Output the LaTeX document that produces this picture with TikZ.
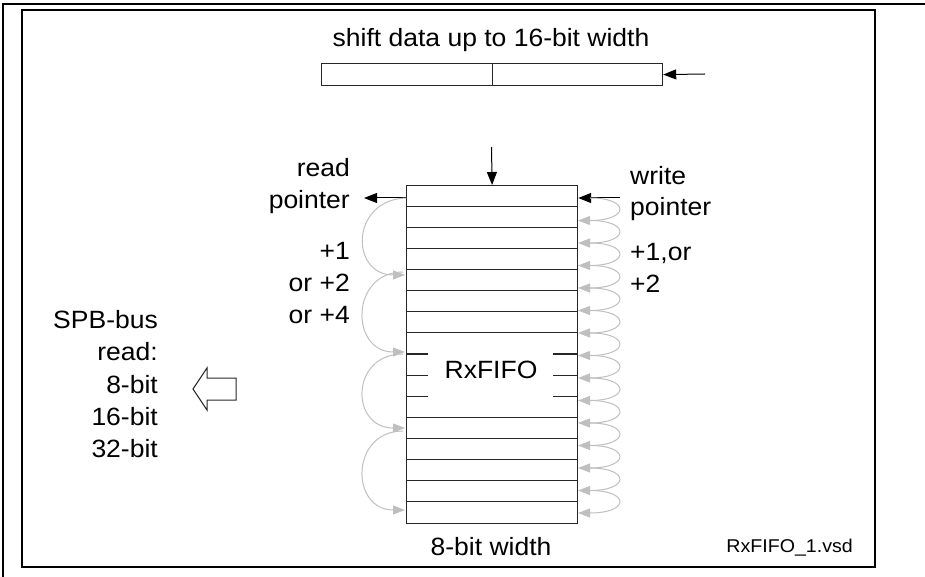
\documentclass[tikz,border=0pt]{standalone}
\usepackage{fontspec}
\setmainfont{Liberation Sans}[FakeStretch=1.06]
\usetikzlibrary{arrows.meta}
\begin{document}
\begin{tikzpicture}[x=1pt,y=-1pt,
  lbl/.style={inner sep=0pt, font=\fontsize{25}{29}\selectfont},
  small/.style={inner sep=0pt, font=\fontsize{18.5}{21}\selectfont},
  frame/.style={line width=1.5pt, draw=black},
  fifoline/.style={draw=black!85, line width=1.2pt},
  blk/.style={-{Triangle[length=13pt,width=10pt]}, line width=1pt, draw=black},
  gry/.style={-{Triangle[length=12pt,width=9pt]}, line width=1pt, draw=black!25, color=black!25}]
\useasboundingbox (0,0) rectangle (925,577);
% frame
\draw[frame] (3,577) -- (3,4) -- (925,4);
\draw[frame] (22,10) rectangle (875,567);
% shift register
\node[lbl, anchor=base] (sdt) at (491,47) {shift data up to 16-bit width};
\node[fifoline, minimum width=341pt, minimum height=22pt, inner sep=0pt, anchor=north west] (sr) at (321,63) {};
\draw[fifoline] (sr.north) -- (sr.south);
\coordinate (srin) at (705,74);
\draw[blk] (srin) -- (sr.east);
% FIFO
\node[fifoline, minimum width=171pt, minimum height=338pt, inner sep=0pt, anchor=north west] (fifo) at (406,185) {};
\foreach \k in {1,...,7,11,12,...,15}
  \draw[fifoline] (406,{185+21.125*\k}) -- (577,{185+21.125*\k});
\foreach \k in {8,9,10}{
  \draw[fifoline] (406,{185+21.125*\k}) -- (428,{185+21.125*\k});
  \draw[fifoline] (553,{185+21.125*\k}) -- (577,{185+21.125*\k});
}
\node[lbl, anchor=base] (rx) at (491,378) {RxFIFO};
\node[lbl, anchor=base] (w8) at (491,555) {8-bit width};
% top arrow
\coordinate (topin) at (491.5,147);
\draw[blk] (topin) -- (fifo.north);
% read / write pointers
\coordinate (rp) at (364,198);
\draw[blk] (fifo.west |- rp) -- (rp);
\coordinate (wp) at (620,198);
\draw[blk] (wp) -- (fifo.east |- wp);
% read pointer arcs
\draw[gry] (406,198) .. controls (350,200) and (350,275) .. (405,275);
\draw[gry] (403,272) .. controls (350,272) and (350,352) .. (405,352);
\draw[gry] (403,354) .. controls (350,354) and (350,428) .. (405,428);
\draw[gry] (403,431) .. controls (350,431) and (350,510) .. (405,510);
% write pointer arcs
\foreach \i in {0,...,13}
  \draw[gry] (590,{198+22.5*\i}) .. controls (630,{198+22.5*\i}) and (630,{198+22.5*(\i+1)}) .. (578,{198+22.5*(\i+1)});
% labels left
\node[lbl, anchor=base east] (l1) at (350,177) {read};
\node[lbl, anchor=base east] (l2) at (350,208) {pointer};
\node[lbl, anchor=base east] (l3) at (350,259) {+1};
\node[lbl, anchor=base east] (l4) at (350,291) {or +2};
\node[lbl, anchor=base east] (l5) at (350,323) {or +4};
% labels right
\node[lbl, anchor=base west] (r1) at (630,185) {write};
\node[lbl, anchor=base west] (r2) at (630,216) {pointer};
\node[lbl, anchor=base west] (r3) at (630,260) {+1,or};
\node[lbl, anchor=base west] (r4) at (630,292) {+2};
% SPB bus
\node[lbl, anchor=base east] (s1) at (158,328) {SPB-bus};
\node[lbl, anchor=base east] (s2) at (158,360) {read:};
\node[lbl, anchor=base east] (s3) at (158,393) {8-bit};
\node[lbl, anchor=base east] (s4) at (158,425) {16-bit};
\node[lbl, anchor=base east] (s5) at (158,457) {32-bit};
\draw[line width=1pt, draw=black!85] (193,389) -- (207,368) -- (207,378) -- (236,378) -- (236,400) -- (207,400) -- (207,410) -- cycle;
% file name
\node[small, anchor=base east] (fn) at (853,552) {RxFIFO\_1.vsd};
\end{tikzpicture}
\end{document}
